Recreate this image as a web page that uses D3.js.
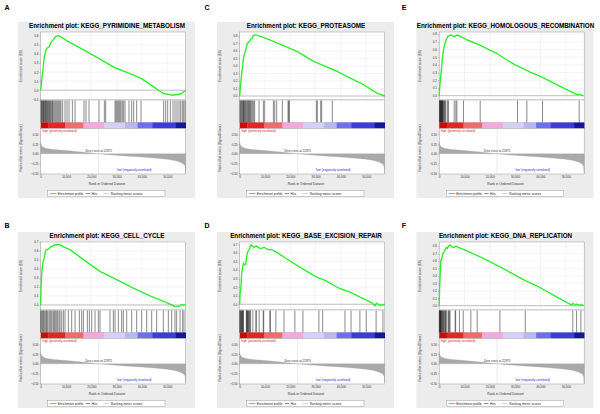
<!DOCTYPE html>
<html><head><meta charset="utf-8">
<script src="https://cdn.jsdelivr.net/npm/d3@7"></script>
<style>body{margin:0;background:#fff}svg{display:block}</style>
</head><body>
<svg id="c" width="600" height="414"></svg>
<script>
// ---------------- DATA ----------------
const datasetSize = 57300;
const rankTicks = [0, 10000, 20000, 30000, 40000, 50000];
const metricTicks = [-0.5, -0.25, 0, 0.25, 0.5];
const zeroCross = 22875;
// ranked list metric (Signal2Noise) shared by all panels: [rank, value]
const metric = [[0,0.29],[150,0.24],[500,0.2],[1000,0.17],[2000,0.145],[3500,0.125],[5000,0.11],[7500,0.095],[10000,0.083],[13000,0.065],[16000,0.045],[20000,0.02],[22875,0],[26000,-0.018],[30000,-0.04],[35000,-0.06],[40000,-0.083],[45000,-0.11],[50000,-0.14],[53000,-0.17],[55000,-0.21],[56500,-0.26],[57100,-0.32],[57290,-0.5]];
// colour bar segments (rank boundaries) and colours
const bandEdges = [0,3000,9600,16900,25150,33300,38300,44100,53300,57300];
const bandColors = ["#cc0a0a","#e52424","#ef6c6c","#f5a8dc","#d6d0f6","#bab6f0","#6e6ef0","#3c3cdc","#16169c"];

const panelLabels = ["A","B","C","D","E","F"];
const titles = [
  "Enrichment plot: KEGG_PYRIMIDINE_METABOLISM",
  "Enrichment plot: KEGG_CELL_CYCLE",
  "Enrichment plot: KEGG_PROTEASOME",
  "Enrichment plot: KEGG_BASE_EXCISION_REPAIR",
  "Enrichment plot: KEGG_HOMOLOGOUS_RECOMBINATION",
  "Enrichment plot: KEGG_DNA_REPLICATION"
];
const esTicksA = [-0.1,0,0.1,0.2,0.3,0.4,0.5,0.6];
const esTicksB = [0,0.1,0.2,0.3,0.4,0.5,0.6,0.7];
const esTicksC = [0,0.1,0.2,0.3,0.4,0.5,0.6,0.7,0.8];
const esTicksD = [0,0.1,0.2,0.3,0.4,0.5,0.6,0.7];
const esTicksE = [0,0.1,0.2,0.3,0.4,0.5,0.6,0.7,0.8];
const esTicksF = [0,0.1,0.2,0.3,0.4,0.5,0.6,0.7,0.8];

// running enrichment score: [rank, ES]
const esA = [[0,0],[395,0.109],[922,0.236],[1449,0.364],[1976,0.436],[2634,0.465],[3424,0.48],[4083,0.527],[5005,0.556],[5927,0.593],[6980,0.6],[8297,0.582],[10931,0.535],[16199,0.455],[22784,0.353],[29369,0.247],[35296,0.182],[39905,0.127],[45173,0.025],[48466,-0.036],[51758,-0.055],[54392,-0.047],[55709,-0.036],[57290,0]];
const esB = [[0,0],[132,0.204],[527,0.39],[922,0.483],[1317,0.509],[1844,0.595],[2371,0.613],[3161,0.621],[3951,0.643],[5005,0.658],[6322,0.669],[7639,0.665],[8956,0.643],[11590,0.613],[16858,0.502],[23443,0.372],[30028,0.279],[36613,0.186],[43198,0.1],[49783,0.026],[53075,-0.019],[55050,-0.011],[55709,0.004],[57290,0]];
const esC = [[0,0],[263,0.124],[659,0.257],[1054,0.367],[1449,0.5],[1976,0.566],[2502,0.633],[3029,0.699],[3819,0.721],[4346,0.752],[5005,0.774],[5400,0.801],[6322,0.81],[7244,0.801],[9614,0.774],[16199,0.686],[22784,0.588],[29369,0.456],[32003,0.42],[37271,0.345],[42539,0.257],[49124,0.146],[54392,0.035],[57290,0]];
const esD = [[0,0],[132,0.128],[395,0.167],[790,0.362],[1185,0.44],[1580,0.479],[1976,0.459],[2371,0.467],[2766,0.556],[3161,0.615],[3688,0.634],[4346,0.693],[5005,0.681],[5663,0.665],[6585,0.681],[7375,0.665],[8297,0.65],[9614,0.665],[10273,0.654],[11590,0.634],[12248,0.642],[14224,0.615],[18175,0.537],[23443,0.44],[30028,0.323],[33979,0.276],[39247,0.187],[43198,0.148],[47149,0.089],[52417,0.012],[53471,-0.019],[53997,0.012],[55050,-0.008],[56630,-0.008],[57290,0]];
const esE = [[0,0],[263,0.138],[527,0.225],[922,0.355],[1317,0.506],[1712,0.592],[2239,0.679],[2766,0.722],[3293,0.765],[4346,0.787],[5268,0.778],[5927,0.765],[6585,0.778],[7244,0.787],[8561,0.765],[11195,0.722],[16463,0.649],[23048,0.541],[29633,0.406],[36218,0.303],[40169,0.246],[44120,0.182],[49388,0.095],[54655,0.009],[55314,0.022],[55973,0.009],[57027,0]];
const esF = [[0,0],[132,0.21],[395,0.433],[659,0.612],[1054,0.634],[1449,0.701],[1976,0.723],[2371,0.754],[2766,0.781],[3293,0.768],[3688,0.804],[4346,0.813],[5005,0.79],[5663,0.777],[6585,0.799],[7375,0.786],[10273,0.746],[16858,0.643],[23443,0.531],[30028,0.411],[33979,0.335],[39247,0.254],[45832,0.129],[49783,0.054],[52417,0.009],[52812,0.031],[53734,0.009],[54392,0.022],[55709,0],[56104,0.018],[57026,0]];

// gene-set hit ranks
const hitsA = [132,395,527,790,1054,1185,1449,1712,1976,2107,2371,2634,2897,3161,3424,3688,3951,4346,4610,4873,5268,5663,6058,6453,6848,7244,7639,8034,8692,9614,10404,11195,12512,13565,17121,17911,19097,23048,25155,25682,29369,29764,30159,30554,30950,31345,31740,32267,32793,33320,34901,35954,36744,37930,39642,48597,49388,50178,51232,52285,53075,53865,54656,55314,55973,56500,57027];
const hitsB = [0,395,660,1050,1320,1710,2110,2370,2770,3290,3690,4080,4480,5000,5400,5800,6320,6720,7240,7640,8300,8960,9610,10930,12250,13570,15280,16200,16860,18440,19230,20150,21470,22780,23440,27390,28710,29370,30690,32000,32660,33980,35950,37930,39900,41880,43860,45830,48460,50440,51760,53070,53730,55050,56110,56630];
const hitsC = [132,395,659,922,1185,1449,1580,1844,2107,2371,2634,3029,3293,3556,3819,4083,4346,4741,5136,5531,5927,7639,9351,9878,13302,13829,14619,16858,19097,19360,19623,30291,30686,32003,32398,36612];
const hitsD = [60,190,330,700,850,1000,1150,1300,1500,2600,2750,2900,3100,3300,3500,3800,4050,4300,5200,6400,6550,7700,9300,9500,11900,12150,14300,17500,21800,25000,31300,32800,41600,44000,47500,50000,53900,56600];
const hitsE = [132,263,395,527,659,790,922,1054,1185,1317,1449,1580,1844,2107,2371,2634,3293,3688,5927,6585,6980,9614,16199,30950,34638,40827,55314];
const hitsF = [60,200,330,450,550,700,850,1000,1250,1400,1700,1900,2200,2400,2600,2800,3500,3700,4100,4300,6300,6500,8000,9500,12500,15000,24000,34000,52800,54300,56000];

// ---------------- DRAW ----------------
const svg = d3.select("#c");
const FONT = "'Liberation Sans', Arial, sans-serif";
const panels = [
  {i:0, es:esA, hits:hitsA, ticks:esTicksA, dom:[-0.108,0.641]},
  {i:1, es:esB, hits:hitsB, ticks:esTicksB, dom:[-0.056,0.697]},
  {i:2, es:esC, hits:hitsC, ticks:esTicksC, dom:[-0.053,0.849]},
  {i:3, es:esD, hits:hitsD, ticks:esTicksD, dom:[-0.067,0.727]},
  {i:4, es:esE, hits:hitsE, ticks:esTicksE, dom:[-0.056,0.826]},
  {i:5, es:esF, hits:hitsF, ticks:esTicksF, dom:[-0.058,0.854]}
];
const colX = [0, 199, 398.5];
const rowY = [0, 210];
const labelPos = [[7,10],[7,227.5],[207,10],[207,227.5],[404,10],[404,227.5]];

const L = 40.7, R = 185.7;
const esTop = 32, esBot = 100, hitBot = 122.5, barBot = 128.5, rkBot = 174;

panels.forEach(p => {
  const col = Math.floor(p.i / 2), row = p.i % 2;
  svg.append("text").attr("x", labelPos[p.i][0]).attr("y", labelPos[p.i][1])
    .attr("text-anchor","middle").attr("font-family",FONT).attr("font-weight","bold")
    .attr("font-size",7).text(panelLabels[p.i]);

  const g = svg.append("g").attr("transform", `translate(${colX[col]},${rowY[row]})`);
  g.append("rect").attr("x",18).attr("y",22).attr("width",177).attr("height",176).attr("fill","#ececec");
  g.append("text").attr("x",107).attr("y",28.3).attr("text-anchor","middle")
    .attr("font-family",FONT).attr("font-weight","bold").attr("font-size",6.3).text(titles[p.i]);

  const x = d3.scaleLinear().domain([0, datasetSize]).range([L, R]);
  const y = d3.scaleLinear().domain(p.dom).range([esBot, esTop]);
  const yr = d3.scaleLinear().domain([-0.5, 0.5]).range([173.3, 134.3]);

  // ES panel
  g.append("rect").attr("x",L).attr("y",esTop).attr("width",R-L).attr("height",esBot-esTop)
    .attr("fill","#fff").attr("stroke","#9a9a9a").attr("stroke-width",0.5);
  g.append("g").selectAll("line.vg").data(rankTicks.slice(1)).join("line")
    .attr("x1",d=>x(d)).attr("x2",d=>x(d)).attr("y1",esTop).attr("y2",esBot)
    .attr("stroke","#e4e4e4").attr("stroke-width",0.4);
  g.append("g").selectAll("line.hg").data(p.ticks).join("line")
    .attr("x1",L).attr("x2",R).attr("y1",d=>y(d)).attr("y2",d=>y(d))
    .attr("stroke","#e4e4e4").attr("stroke-width",0.4);
  g.append("line").attr("x1",L).attr("x2",R).attr("y1",y(0)).attr("y2",y(0))
    .attr("stroke","#8c8c8c").attr("stroke-width",0.5);
  g.append("path").datum(p.es)
    .attr("d", d3.line().x(d=>x(d[0])).y(d=>y(d[1])))
    .attr("fill","none").attr("stroke","#2ef02e").attr("stroke-width",1.4).attr("stroke-linejoin","round");
  const ya = g.append("g").attr("transform",`translate(${L},0)`)
    .call(d3.axisLeft(y).tickValues(p.ticks).tickFormat(d3.format(".1f")).tickSize(1.2).tickPadding(1));
  ya.select(".domain").remove();
  ya.selectAll("line").attr("stroke","#777").attr("stroke-width",0.4);
  ya.selectAll("text").attr("font-size",3).attr("font-family",FONT).attr("fill","#333");
  g.append("text").attr("transform",`translate(22,66) rotate(-90)`).attr("text-anchor","middle")
    .attr("font-family",FONT).attr("font-size",3.2).attr("fill","#333").text("Enrichment score (ES)");

  // hits panel
  g.append("rect").attr("x",L).attr("y",esBot).attr("width",R-L).attr("height",hitBot-esBot)
    .attr("fill","#fff").attr("stroke","#9a9a9a").attr("stroke-width",0.5);
  g.append("g").selectAll("line").data(p.hits).join("line")
    .attr("x1",d=>x(d)).attr("x2",d=>x(d)).attr("y1",esBot+0.5).attr("y2",hitBot)
    .attr("stroke","#000").attr("stroke-width",0.55).attr("stroke-opacity",0.85);
  // colour bar
  g.append("g").selectAll("rect").data(bandColors).join("rect")
    .attr("x",(d,i)=>x(bandEdges[i])).attr("width",(d,i)=>x(bandEdges[i+1])-x(bandEdges[i])+0.3)
    .attr("y",hitBot).attr("height",barBot-hitBot).attr("fill",d=>d);

  // ranked metric panel
  g.append("rect").attr("x",L).attr("y",barBot).attr("width",R-L).attr("height",rkBot-barBot)
    .attr("fill","#fff").attr("stroke","#9a9a9a").attr("stroke-width",0.5);
  g.append("path").datum(metric)
    .attr("d", d3.area().x(d=>x(d[0])).y0(yr(0)).y1(d=>yr(d[1])))
    .attr("fill","#a9a9a9").attr("stroke","#a0a0a0").attr("stroke-width",0.3);
  g.append("line").attr("x1",x(zeroCross)).attr("x2",x(zeroCross)).attr("y1",barBot).attr("y2",rkBot)
    .attr("stroke","#999").attr("stroke-width",0.4).attr("stroke-dasharray","1,1");
  g.append("text").attr("x",x(zeroCross)).attr("y",yr(0)-1.6).attr("text-anchor","middle")
    .attr("font-family",FONT).attr("font-size",3).attr("fill","#333").text("Zero cross at " + zeroCross);
  g.append("text").attr("x",L+1.2).attr("y",barBot+3).attr("font-family",FONT).attr("font-size",2.9)
    .attr("fill","#e01010").text("'high' (positively correlated)");
  g.append("text").attr("x",x(30000)).attr("y",170.8).attr("font-family",FONT).attr("font-size",2.9)
    .attr("fill","#2020e0").text("'low' (negatively correlated)");
  const ra = g.append("g").attr("transform",`translate(${L},0)`)
    .call(d3.axisLeft(yr).tickValues(metricTicks).tickFormat(d3.format(".2f")).tickSize(1.2).tickPadding(1));
  ra.select(".domain").remove();
  ra.selectAll("line").attr("stroke","#777").attr("stroke-width",0.4);
  ra.selectAll("text").attr("font-size",3).attr("font-family",FONT).attr("fill","#333");
  g.append("text").attr("transform",`translate(22,148) rotate(-90)`).attr("text-anchor","middle")
    .attr("font-family",FONT).attr("font-size",3.2).attr("fill","#333").text("Ranked list metric (Signal2Noise)");

  // x axis
  const xa = g.append("g").attr("transform",`translate(0,${rkBot})`)
    .call(d3.axisBottom(x).tickValues(rankTicks).tickFormat(d3.format(",")).tickSize(1.2).tickPadding(1));
  xa.select(".domain").remove();
  xa.selectAll("line").attr("stroke","#777").attr("stroke-width",0.4);
  xa.selectAll("text").attr("font-size",3).attr("font-family",FONT).attr("fill","#333");
  g.append("text").attr("x",107).attr("y",185.3).attr("text-anchor","middle")
    .attr("font-family",FONT).attr("font-size",3.3).attr("fill","#333").text("Rank in Ordered Dataset");

  // legend
  const lg = g.append("g");
  lg.append("rect").attr("x",47.7).attr("y",190.5).attr("width",117.3).attr("height",6.2)
    .attr("fill","#fff").attr("stroke","#888").attr("stroke-width",0.4);
  lg.append("line").attr("x1",50).attr("x2",56.5).attr("y1",193.6).attr("y2",193.6).attr("stroke","#2ef02e").attr("stroke-width",1);
  lg.append("text").attr("x",57.7).attr("y",194.7).attr("font-family",FONT).attr("font-size",3.2).attr("fill","#222").text("Enrichment profile");
  lg.append("line").attr("x1",85.7).attr("x2",90).attr("y1",193.6).attr("y2",193.6).attr("stroke","#000").attr("stroke-width",0.5);
  lg.append("text").attr("x",91.5).attr("y",194.7).attr("font-family",FONT).attr("font-size",3.2).attr("fill","#222").text("Hits");
  lg.append("line").attr("x1",103.3).attr("x2",109).attr("y1",193.6).attr("y2",193.6).attr("stroke","#aaa").attr("stroke-width",0.5);
  lg.append("text").attr("x",110.8).attr("y",194.7).attr("font-family",FONT).attr("font-size",3.2).attr("fill","#222").text("Ranking metric scores");
});
</script>
</body></html>
